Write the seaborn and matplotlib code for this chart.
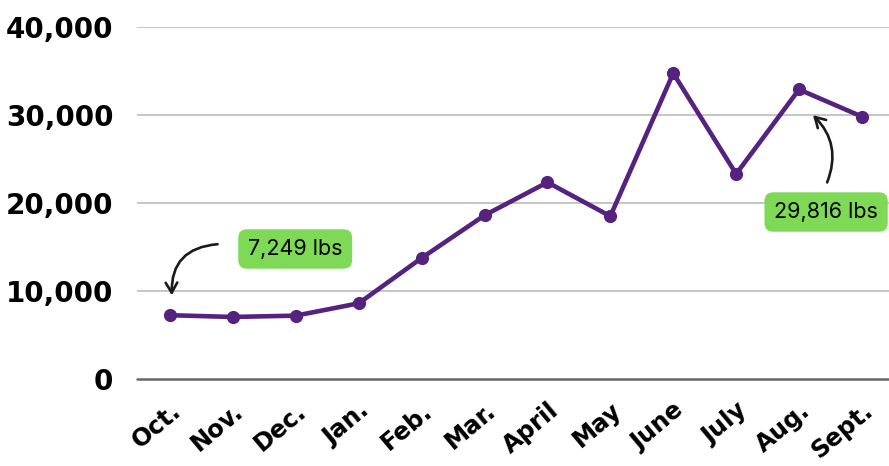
import matplotlib
matplotlib.use("Agg")
import matplotlib.pyplot as plt
import seaborn as sns
import pandas as pd
from matplotlib.ticker import FuncFormatter

months = ["Oct.", "Nov.", "Dec.", "Jan.", "Feb.", "Mar.", "April", "May",
          "June", "July", "Aug.", "Sept."]
pounds = [7249, 7050, 7200, 8600, 13750, 18600, 22350, 18500,
          34750, 23300, 32900, 29816]
yticks = [0, 10000, 20000, 30000, 40000]

df = pd.DataFrame({"month": months, "lbs": pounds})

sns.set_theme(style="white")
plt.rcParams["font.family"] = ["DejaVu Sans"]

fig = plt.figure(figsize=(8.89, 4.66), dpi=100)
ax = fig.add_axes([137/889, 87/466, 752/889, 352/466])

sns.lineplot(data=df, x="month", y="lbs", ax=ax, color="#55227F",
             linewidth=3.3, marker="o", markersize=9.5, markeredgewidth=0,
             sort=False, clip_on=False, zorder=5)

ax.set_ylim(0, 40000)
ax.set_xlim(-0.525, 11.43)
ax.set_yticks(yticks)
ax.yaxis.set_major_formatter(FuncFormatter(lambda v, p: f"{int(v):,}"))
for y in yticks[1:]:
    ax.axhline(y, color="#c0c0c0", lw=1.3, zorder=1)
ax.axhline(0, color="#666666", lw=1.8, zorder=1, clip_on=False)

for s in ax.spines.values():
    s.set_visible(False)
ax.set_xlabel("")
ax.set_ylabel("")
ax.tick_params(axis="y", length=0, pad=17)
ax.tick_params(axis="x", length=0, pad=14)
for lab in ax.get_yticklabels():
    lab.set_fontsize(20)
    lab.set_fontweight("heavy")
    lab.set_color("black")
for lab in ax.get_xticklabels():
    lab.set_fontsize(17.5)
    lab.set_fontweight("heavy")
    lab.set_color("black")
    lab.set_rotation(40)
    lab.set_ha("right")
    lab.set_rotation_mode("anchor")

box = dict(boxstyle="round,pad=0.45,rounding_size=0.4", fc="#7ED957", ec="none")
ax.text(1.99, 14773, "7,249 lbs", ha="center", va="center", fontsize=15.5,
        family=["Inter", "DejaVu Sans"], bbox=box, color="black")
ax.text(10.43, 18977, "29,816 lbs", ha="center", va="center", fontsize=15.5,
        family=["Inter", "DejaVu Sans"], bbox=box, color="black", clip_on=False)

ax.annotate("", xy=(0.03, 9200), xytext=(0.8, 15340),
            arrowprops=dict(arrowstyle="->,head_length=0.6,head_width=0.35",
                            color="#1a1a1a", lw=1.9,
                            connectionstyle="arc3,rad=0.5"))
ax.annotate("", xy=(10.19, 30200), xytext=(10.43, 22050),
            arrowprops=dict(arrowstyle="->,head_length=0.6,head_width=0.35",
                            color="#1a1a1a", lw=1.9,
                            connectionstyle="arc3,rad=0.35"))

fig.savefig("out.png", dpi=100)
